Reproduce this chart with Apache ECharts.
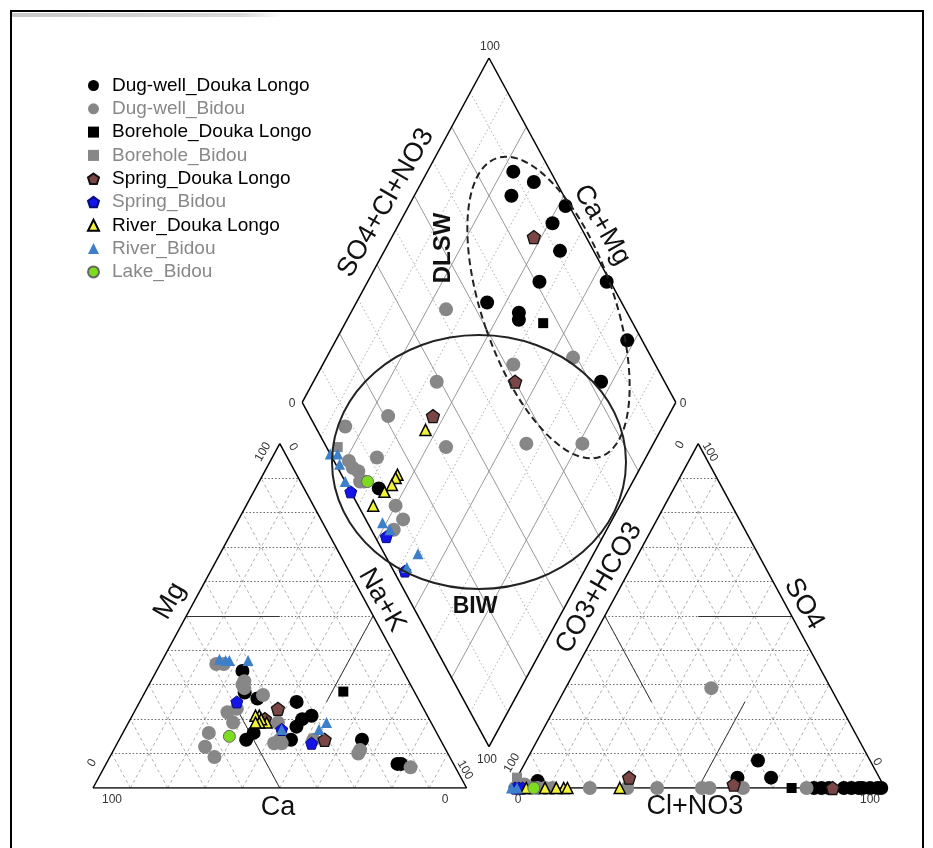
<!DOCTYPE html>
<html><head><meta charset="utf-8">
<script src="https://cdn.jsdelivr.net/npm/echarts/dist/echarts.min.js"></script>
<style>html,body{margin:0;padding:0;background:#fff}#c{width:933px;height:848px}</style>
</head><body><div id="c"></div>
<script>
// ---------------- DATA ----------------
const groupNames = ['Dug-well_Douka Longo','Dug-well_Bidou','Borehole_Douka Longo','Borehole_Bidou',
  'Spring_Douka Longo','Spring_Bidou','River_Douka Longo','River_Bidou','Lake_Bidou'];

// cation triangle: [Ca, Mg, Na+K] (%)
const dugDL_cat = [[43,34,23],[46,28,27],[43,26,31],[33,25,42],[34,20,46],[31,21,48],[37,18,46],[49,16,35],[52,14,34],[40,14,46],[21,14,65],[15,7,78],[14,7,79]];
const dugBI_cat = [[49,36,15],[47,36,17],[45,30,25],[44,31,25],[45,29,26],[41,27,32],[53,22,25],[50,23,27],[53,19,28],[61,16,23],[64,12,24],[63,9,28],[41,19,40],[43,14,43],[43,13,44],[45,13,42],[34,14,52],[24,10,66],[23,11,66],[12,6,82]];
const boreDL_cat = [[19,28,53]];
const boreBI_cat = [[48,36,16]];
const sprDL_cat = [[39,23,38],[31,14,55],[44,20,36]];
const sprBI_cat = [[49,25,26],[35,13,52],[41,17,42]];
const rivDL_cat = [[45,21,34],[44,19,37],[46,21,33],[45,20,35],[46,19,35],[47,19,34]];
const rivBI_cat = [[45,37,18],[40,37,23],[47,37,15],[46,37,17],[41,17,42],[28,19,53],[31,17,52]];
const lake_cat = [[56,15,29]];

// anion triangle: [CO3+HCO3, SO4, Cl+NO3] (%)
const dugDL_an = [[92,2,6],[38,3,59],[30,8,62],[29,3,68],[19,0,81],[17,0,83],[15,0,85],[11,0,89],[9,0,91],[7,0,93],[6,0,94],[4,0,96],[2,0,98],[1,0,99]];
const dugBI_an = [[99,0,1],[97,0,3],[96,1,3],[95,0,5],[93,0,7],[91,0,9],[89,0,11],[79,0,21],[69,0,31],[61,0,39],[49,0,51],[47,0,53],[38,0,62],[21,0,79],[32,29,39]];
const boreDL_an = [[25,0,75]];
const boreBI_an = [[97,3,0]];
const sprDL_an = [[67,3,30],[40,1,59],[14,0,86]];
const sprBI_an = [[99,0,1],[98,0,2],[97,0,3]];
const rivDL_an = [[71,0,29],[86,0,14],[88,0,12],[91,0,9],[96,0,4],[85,0,15]];
const rivBI_an = [[100,0,0],[98.5,0,1.5]];
const lake_an = [[94,0,6]];

// diamond: [Na+K, SO4+Cl+NO3] (%)
const dugDL_dia = [[23,90],[30,94],[26,86],[42,99],[41,93],[47,91],[46,81],[64,99],[35,64],[45,71],[46,70],[78,96],[77,83],[33,8]];
const dugBI_dia = [[51,62],[66,79],[66,54],[81,69],[33,39],[25,21],[15,8],[45,32],[28,12],[23,4],[27,4],[28,5],[40,10],[44,10],[43,6],[25,5],[21,4],[25,52]];
const boreDL_dia = [[53,76]];
const boreBI_dia = [[16,3]];
const sprDL_dia = [[38,86],[54,60],[37,33]];
const sprBI_dia = [[26,0],[52,3],[42,3]];
const rivDL_dia = [[37,29],[36,15],[36,14],[36,12],[35,9],[34,4]];
const rivBI_dia = [[15,0],[17,2],[19,1],[23,0],[39,4],[42,5],[53,9],[52,4]];
const lake_dia = [[29,6]];

const gridSteps = [10,20,30,40,50,60,70,80,90];

// ---------------- GEOMETRY ----------------
const H = 86.6025, GAP = 12, DY = GAP * 0.866025;
function catXY(p){ const t=p[0]+p[1]+p[2]; const mg=p[1]/t, na=p[2]/t; return [100*na + 50*mg, H*mg]; }
function anXY(p){ const t=p[0]+p[1]+p[2]; const so=p[1]/t, cl=p[2]/t; return [100+GAP + 100*cl + 50*so, H*so]; }
function diaXY(p){ const a=p[0]/100, b=p[1]/100; return [50+GAP/2 + 50*a + 50*b, DY + H + H*(b-a)]; }
function pts(cat, an, dia){ return cat.map(catXY).concat(an.map(anXY), dia.map(diaXY)); }

const seg = (p,q)=>({coords:[p,q]});
const triH = [], triD = [], outline = [], facies = [], diaSolid = [], diaDot = [];
for (const k of gridSteps){
  triH.push(seg(catXY([100-k,k,0]), catXY([0,k,100-k])));
  triD.push(seg(catXY([100-k,0,k]), catXY([0,100-k,k])));
  triD.push(seg(catXY([k,0,100-k]), catXY([k,100-k,0])));
  triH.push(seg(anXY([100-k,k,0]), anXY([0,k,100-k])));
  triD.push(seg(anXY([100-k,0,k]), anXY([0,100-k,k])));
  triD.push(seg(anXY([k,0,100-k]), anXY([k,100-k,0])));
  const tgt = (k % 20 === 0) ? diaSolid : diaDot;
  tgt.push(seg(diaXY([k,0]), diaXY([k,100])));
  tgt.push(seg(diaXY([0,k]), diaXY([100,k])));
}
outline.push(seg(catXY([100,0,0]),catXY([0,0,100])), seg(catXY([0,0,100]),catXY([0,100,0])), seg(catXY([0,100,0]),catXY([100,0,0])));
outline.push(seg(anXY([100,0,0]),anXY([0,0,100])), seg(anXY([0,0,100]),anXY([0,100,0])), seg(anXY([0,100,0]),anXY([100,0,0])));
outline.push(seg(diaXY([0,0]),diaXY([100,0])), seg(diaXY([100,0]),diaXY([100,100])), seg(diaXY([100,100]),diaXY([0,100])), seg(diaXY([0,100]),diaXY([0,0])));
facies.push(seg(catXY([50,50,0]), catXY([25,50,25])), seg(catXY([50,0,50]), catXY([50,25,25])), seg(catXY([0,50,50]), catXY([25,25,50])));
facies.push(seg(anXY([0,50,50]), anXY([25,50,25])), seg(anXY([50,0,50]), anXY([25,25,50])), seg(anXY([50,50,0]), anXY([50,25,25])));

// ---------------- CHART ----------------
const pent = 'path://M0,-10L9.51,-3.09L5.88,8.09L-5.88,8.09L-9.51,-3.09Z';
const groups = [
  {d: pts(dugDL_cat,dugDL_an,dugDL_dia), sym:'circle', size:14, st:{color:'#000'}},
  {d: pts(dugBI_cat,dugBI_an,dugBI_dia), sym:'circle', size:14, st:{color:'#878787'}},
  {d: pts(boreDL_cat,boreDL_an,boreDL_dia), sym:'rect', size:10, st:{color:'#000'}},
  {d: pts(boreBI_cat,boreBI_an,boreBI_dia), sym:'rect', size:10, st:{color:'#878787'}},
  {d: pts(sprDL_cat,sprDL_an,sprDL_dia), sym:pent, size:13, st:{color:'#7a4646', borderColor:'#111', borderWidth:1.3}},
  {d: pts(sprBI_cat,sprBI_an,sprBI_dia), sym:pent, size:12, st:{color:'#1414e6', borderColor:'#0a0a80', borderWidth:1}},
  {d: pts(rivDL_cat,rivDL_an,rivDL_dia), sym:'triangle', size:11, st:{color:'#f2f23a', borderColor:'#000', borderWidth:1.5}},
  {d: pts(rivBI_cat,rivBI_an,rivBI_dia), sym:'triangle', size:11, st:{color:'#3d7fc9'}},
  {d: pts(lake_cat,lake_an,lake_dia), sym:'circle', size:12, st:{color:'#7ddc1f', borderColor:'#666', borderWidth:1}}
];
const legendColors = ['#000','#888','#000','#888','#000','#888','#000','#888','#888'];

const lineSeries = (data, style, z) => ({type:'lines', coordinateSystem:'cartesian2d', silent:true, z:z, data:data, lineStyle:style, animation:false});

const series = [
  lineSeries(triD, {color:'#9a9a9a', width:0.8, type:[3,3], opacity:1}, 1),
  lineSeries(triH, {color:'#555', width:0.9, type:[1.5,2], opacity:1}, 1),
  lineSeries(diaDot, {color:'#9a9a9a', width:0.8, type:[1.5,2.5], opacity:1}, 1),
  lineSeries(diaSolid, {color:'#8c8c8c', width:0.9, type:'solid', opacity:1}, 1),
  lineSeries(facies, {color:'#333', width:1, type:'solid', opacity:1}, 2),
  lineSeries(outline, {color:'#000', width:1.5, type:'solid', opacity:1}, 2)
];
groups.forEach((g,i)=>{
  series.push({type:'scatter', name:groupNames[i], data:g.d, symbol:g.sym, symbolSize:g.size, itemStyle:Object.assign({opacity:1}, g.st), z:5+i, animation:false});
});

function T(text, x, y, size, rot, opts){
  opts = opts || {};
  return {type:'text', x:x, y:y, rotation:(rot||0)*Math.PI/180, z:50,
    style:{text:text, fill:opts.fill||'#111', font:(opts.bold?'bold ':'')+size+'px "Liberation Sans", Arial, sans-serif',
      textAlign:'center', textVerticalAlign:'middle', align:'center', verticalAlign:'middle'}};
}

const graphics = [
  {type:'rect', shape:{x:11, y:11, width:912, height:870}, style:{fill:'none', stroke:'#000', lineWidth:2}, z:60},
  {type:'rect', shape:{x:12, y:13, width:270, height:4}, style:{fill:new echarts.graphic.LinearGradient(0,0,1,0,[{offset:0,color:'#c8c8c8'},{offset:0.85,color:'#d8d8d8'},{offset:1,color:'#ffffff'}])}, z:59},
  T('SO4+Cl+NO3', 386, 203, 27, 60),
  T('Ca+Mg', 602, 225, 27, -60),
  T('Mg', 170, 601, 27, 60),
  T('Na+K', 382, 600, 27, -60),
  T('Ca', 278, 808, 27, 0),
  T('CO3+HCO3', 599, 588, 27, 60),
  T('SO4', 804, 604, 27, -60),
  T('Cl+NO3', 695, 807, 27, 0),
  T('DLSW', 443, 248, 24, 90, {bold:true}),
  T('BIW', 475, 607, 23, 0, {bold:true}),
  T('100', 490, 47, 12, 0, {fill:'#333'}),
  T('0', 292, 404, 12, 0, {fill:'#333'}),
  T('0', 683, 404, 12, 0, {fill:'#333'}),
  T('100', 487, 760, 12, 0, {fill:'#333'}),
  T('100', 112, 800, 12, 0, {fill:'#333'}),
  T('0', 445, 800, 12, 0, {fill:'#333'}),
  T('0', 92, 763, 12, 60, {fill:'#333'}),
  T('100', 263, 452, 12, 60, {fill:'#333'}),
  T('0', 293, 447, 12, -60, {fill:'#333'}),
  T('100', 465, 770, 12, -60, {fill:'#333'}),
  T('100', 512, 763, 12, 60, {fill:'#333'}),
  T('0', 518, 800, 12, 0, {fill:'#333'}),
  T('100', 870, 800, 12, 0, {fill:'#333'}),
  T('0', 877, 762, 12, -60, {fill:'#333'}),
  T('0', 680, 445, 12, 60, {fill:'#333'}),
  T('100', 710, 452, 12, -60, {fill:'#333'}),
  {type:'ellipse', shape:{cx:479, cy:462, rx:147, ry:127}, style:{fill:'none', stroke:'#222', lineWidth:2}, z:40},
  {type:'ellipse', x:548.5, y:307.5, rotation:19.2*Math.PI/180, shape:{cx:0, cy:0, rx:66, ry:158}, style:{fill:'none', stroke:'#222', lineWidth:2, lineDash:[7,4]}, z:40}
];

const chart = echarts.init(document.getElementById('c'));
chart.setOption({
  animation:false,
  backgroundColor:'#fff',
  grid:{left:93, top:58, width:792, height:730},
  xAxis:{type:'value', min:0, max:212, show:false, splitLine:{show:false}},
  yAxis:{type:'value', min:0, max:2*H+DY, show:false, splitLine:{show:false}},
  legend:{orient:'vertical', left:82, top:71, itemWidth:11, itemHeight:11, itemGap:4.3,
    data:groupNames.map((n,i)=>({name:n, textStyle:{color:legendColors[i]}})),
    textStyle:{fontSize:19, fontFamily:'"Liberation Sans", Arial, sans-serif', lineHeight:19, padding:[0,0,0,8]}},
  graphic:graphics,
  series:series
});
</script>
</body></html>
